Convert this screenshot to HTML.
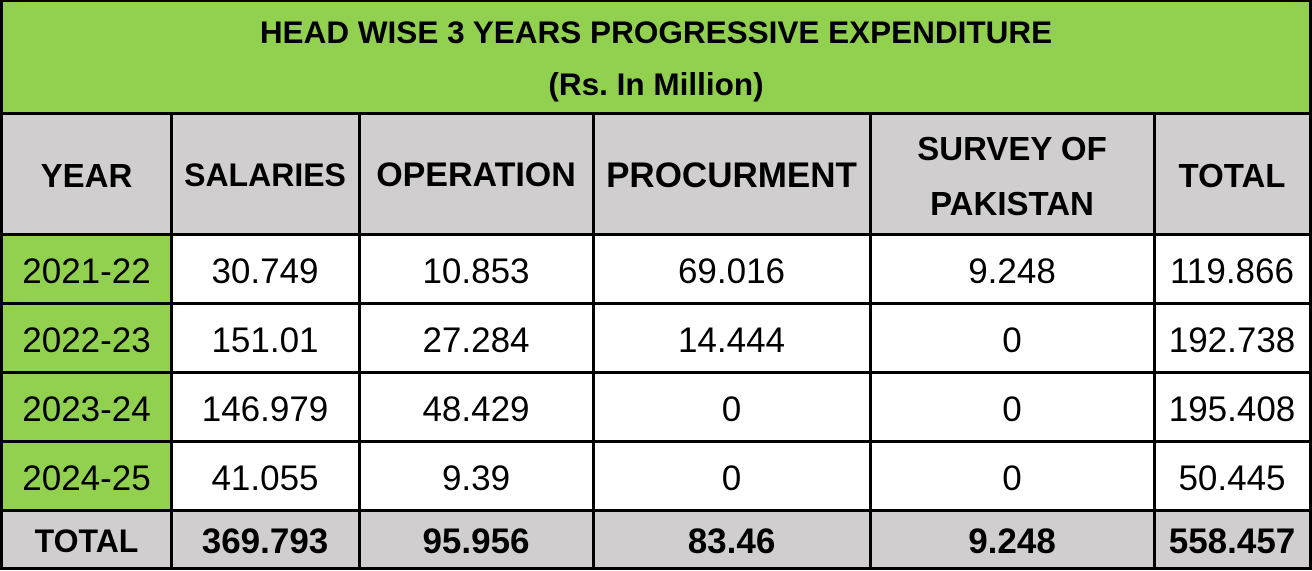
<!DOCTYPE html>
<html><head><meta charset="utf-8"><style>
html,body{margin:0;padding:0;width:1312px;height:571px;background:#fff;overflow:hidden}
.c{position:absolute;display:flex;align-items:center;justify-content:center;text-align:center;font-family:"Liberation Sans",sans-serif;color:#000;box-sizing:border-box;white-space:nowrap}
.hl{position:absolute;background:#000}
.g{background:#92D050}.gr{background:#D0CECE}
.b{font-weight:bold}
.h{font-size:33px;font-weight:bold;line-height:55px;padding-top:5px}
</style></head><body>
<div class="c g b" style="left:0;top:0;width:1312px;height:112px;font-size:31.5px;line-height:52px;padding-top:4px">HEAD WISE 3 YEARS PROGRESSIVE EXPENDITURE<br>(Rs. In Million)</div>
<div class="gr" style="position:absolute;left:0;top:112px;width:1312px;height:122px"></div>
<div class="gr" style="position:absolute;left:0;top:510px;width:1312px;height:58px"></div>
<div class="g" style="position:absolute;left:0;top:234px;width:171px;height:276px"></div>

<div class="c h" style="left:2px;top:112px;width:169px;height:122px">YEAR</div>
<div class="c h" style="left:171px;top:112px;width:188px;height:122px;font-size:32px">SALARIES</div>
<div class="c h" style="left:359px;top:112px;width:234px;height:122px;font-size:34px">OPERATION</div>
<div class="c h" style="left:593px;top:112px;width:277px;height:122px;font-size:35px">PROCURMENT</div>
<div class="c h" style="left:870px;top:112px;width:284px;height:122px">SURVEY OF<br>PAKISTAN</div>
<div class="c h" style="left:1154px;top:112px;width:156px;height:122px">TOTAL</div>

<div id="rows"></div>
<script>
var cols=[[2,171],[171,359],[359,593],[593,870],[870,1154],[1154,1310]];
var rows=[[234,303],[303,372],[372,441],[441,510],[510,568]];
var data=[["2021-22","30.749","10.853","69.016","9.248","119.866"],
["2022-23","151.01","27.284","14.444","0","192.738"],
["2023-24","146.979","48.429","0","0","195.408"],
["2024-25","41.055","9.39","0","0","50.445"],
["TOTAL","369.793","95.956","83.46","9.248","558.457"]];
var h="";
data.forEach(function(r,i){r.forEach(function(t,j){
h+='<div class="c'+(i==4?' b':'')+'" style="left:'+cols[j][0]+'px;top:'+rows[i][0]+'px;width:'+(cols[j][1]-cols[j][0])+'px;height:'+(rows[i][1]-rows[i][0])+'px;padding-top:'+(i==4?5:6)+'px;font-size:'+(i==4?(j==0?32:35):35)+'px">'+t+'</div>';});});
[0,112,233,302,371,440,509,567].forEach(function(y){h+='<div class="hl" style="left:0;top:'+y+'px;width:1312px;height:'+(y==0?2:3)+'px"></div>';});
[0,170,358,592,869,1153,1309].forEach(function(x){h+='<div class="hl" style="top:'+(x==0||x==1309?0:112)+'px;left:'+x+'px;width:3px;height:'+(x==0||x==1309?570:456)+'px"></div>';});
document.getElementById("rows").outerHTML=h;
</script>
</body></html>
